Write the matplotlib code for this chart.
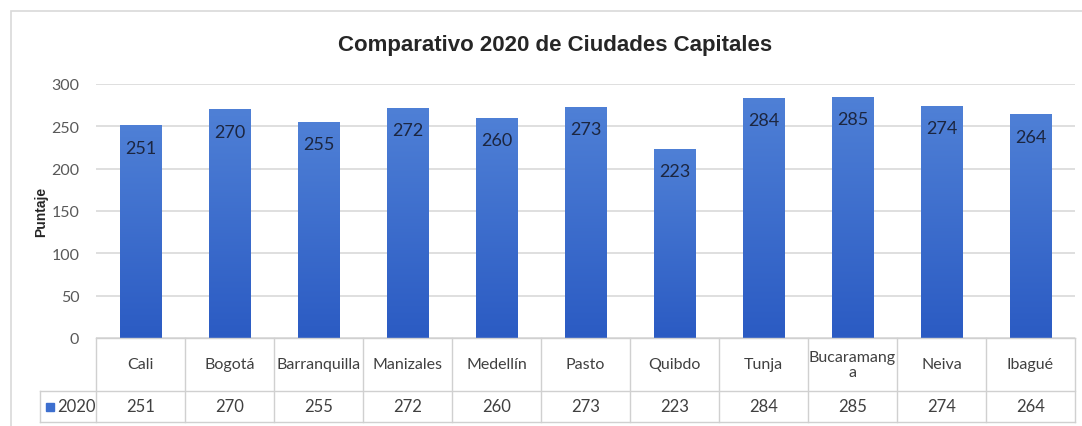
import matplotlib
matplotlib.use('Agg')
import matplotlib.pyplot as plt
import numpy as np
from matplotlib.colors import LinearSegmentedColormap
from matplotlib.patches import Rectangle

# Datos del comparativo
ciudades = ['Cali', 'Bogotá', 'Barranquilla', 'Manizales', 'Medellín', 'Pasto',
            'Quibdo', 'Tunja', 'Bucaramang\na', 'Neiva', 'Ibagué']
puntajes = [251, 270, 255, 272, 260, 273, 223, 284, 285, 274, 264]
serie = '2020'
ticks_y = [0, 50, 100, 150, 200, 250, 300]

plt.rcParams['font.family'] = ['Lato', 'DejaVu Sans']

W, H = 1082, 427
fig = plt.figure(figsize=(W / 100, H / 100), dpi=100)

# Área del gráfico (en píxeles: x 96..1075, y 85..339)
x0, x1, y_top, y_cero = 96, 1075, 85, 339
ax = fig.add_axes([x0 / W, 1 - y_cero / H, (x1 - x0) / W, (y_cero - y_top) / H])

n = len(ciudades)
pos = np.arange(n)
barras = ax.bar(pos, puntajes, width=0.47, color='#3d6fcf', zorder=2)

# Degradado vertical en cada barra
cmap = LinearSegmentedColormap.from_list('azul', ['#2b5bc3', '#4f80d6'])
grad = np.linspace(0, 1, 256).reshape(-1, 1)
for b in barras:
    im = ax.imshow(grad, cmap=cmap, origin='lower', aspect='auto', zorder=3,
                   extent=[b.get_x(), b.get_x() + b.get_width(), 0, b.get_height()])
    im.set_clip_path(b)

for p, v in zip(pos, puntajes):
    ax.annotate(str(v), (p, v), xytext=(0, -16), textcoords='offset points',
                ha='center', va='center', fontsize=13, color='#1c2640', zorder=4)

ax.set_xlim(-0.5, n - 0.5)
ax.set_ylim(0, 300)
ax.set_yticks(ticks_y)
ax.tick_params(axis='y', length=0, labelsize=11.5, labelcolor='#595959', pad=12)
ax.set_xticks([])
ax.grid(axis='y', color='#d9d9d9', linewidth=1.2, zorder=0)
for s in ax.spines.values():
    s.set_visible(False)

# Etiqueta del eje Y
fig.text(41 / W, 1 - 212 / H, 'Puntaje', rotation=90, ha='center', va='center',
         fontsize=10, fontweight='bold', color='#262626',
         family=['Liberation Sans', 'DejaVu Sans'])

fig.text(555 / W, 1 - 45 / H, 'Comparativo 2020 de Ciudades Capitales',
         ha='center', va='center', fontsize=16, fontweight='bold', color='#262626',
         family=['Liberation Sans', 'DejaVu Sans'])

# Tabla de datos bajo el eje
def fx(px):
    return px / W

def fy(py):
    return 1 - py / H

gris = '#d0d0d0'
y_div, y_fin, x_ley = 392, 423, 40
col = (x1 - x0) / n
lw = 1.0
fig.add_artist(plt.Line2D([fx(x0), fx(x1)], [fy(y_cero), fy(y_cero)], color=gris, lw=lw))
fig.add_artist(plt.Line2D([fx(x_ley), fx(x1)], [fy(y_div), fy(y_div)], color=gris, lw=lw))
fig.add_artist(plt.Line2D([fx(x_ley), fx(x1)], [fy(y_fin), fy(y_fin)], color=gris, lw=lw))
fig.add_artist(plt.Line2D([fx(x_ley), fx(x_ley)], [fy(y_div), fy(y_fin)], color=gris, lw=lw))
for i in range(n + 1):
    xc = x0 + i * col
    fig.add_artist(plt.Line2D([fx(xc), fx(xc)], [fy(y_cero), fy(y_fin)], color=gris, lw=lw))

for i, (c, v) in enumerate(zip(ciudades, puntajes)):
    xc = x0 + (i + 0.5) * col
    fig.text(fx(xc), fy((y_cero + y_div) / 2), c, ha='center', va='center',
             fontsize=11.5, color='#404040', linespacing=1.15)
    fig.text(fx(xc), fy((y_div + y_fin) / 2), str(v), ha='center', va='center',
             fontsize=12, color='#404040')

# Celda de leyenda
fig.add_artist(Rectangle((fx(46), fy(412)), 8 / W, 8 / H, color='#3d6fcf'))
fig.text(fx(57), fy((y_div + y_fin) / 2), serie, ha='left', va='center',
         fontsize=12, color='#404040')

# Borde exterior del gráfico
fig.add_artist(Rectangle((fx(11), fy(440)), (W - 11 + 20) / W, (440 - 12) / H,
                         fill=False, edgecolor='#d9d9d9', lw=1.2))

fig.savefig('out.png', dpi=100)
